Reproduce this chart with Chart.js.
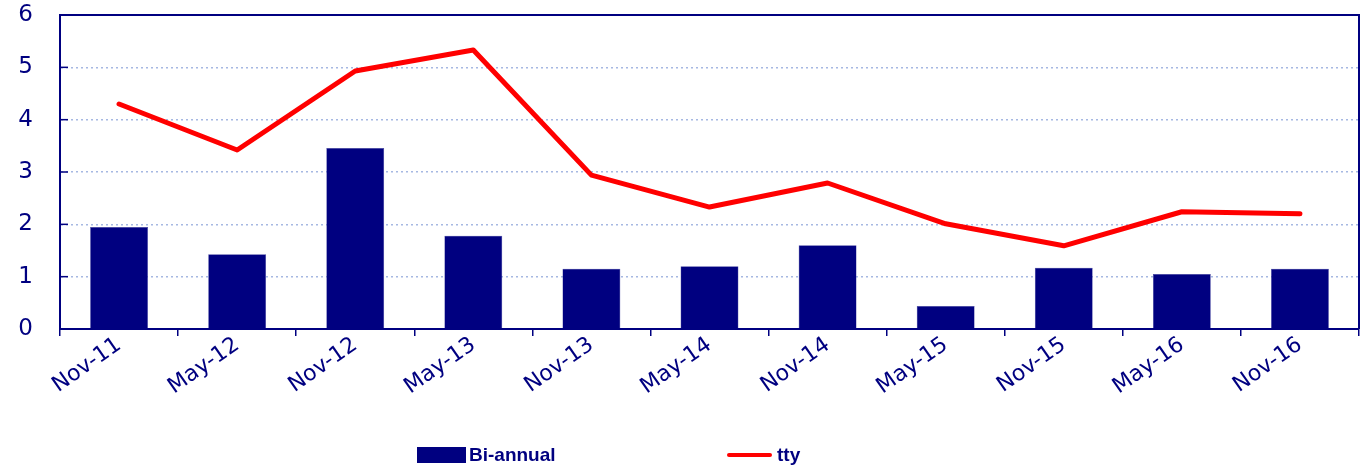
<!DOCTYPE html>
<html>
<head>
<meta charset="utf-8">
<script src="https://cdn.jsdelivr.net/npm/chart.js@4/dist/chart.umd.min.js"></script>
<style>
    html, body { margin: 0; padding: 0; background: #fff; }
    #contenedor { position: relative; width: 1363px; height: 468px; }
    .leyenda { position: absolute; top: 444px; font: bold 19px "Liberation Sans", sans-serif; color: #000080; display: flex; align-items: center; }
    .caja { width: 49px; height: 16px; background: #000080; margin-right: 3px; }
    .linea { width: 45px; height: 4px; background: #ff0000; border-radius: 2px; margin-right: 5px; }
</style>
</head>
<body>
<div id="contenedor">
    <canvas id="graficoSemestral" width="1363" height="468"></canvas>
    <div class="leyenda" style="left:417px"><span class="caja"></span>Bi-annual</div>
    <div class="leyenda" style="left:727px"><span class="linea"></span>tty</div>
</div>
<script>
const periodos = ['Nov-11', 'May-12', 'Nov-12', 'May-13', 'Nov-13', 'May-14', 'Nov-14', 'May-15', 'Nov-15', 'May-16', 'Nov-16'];
const semestral = [1.95, 1.43, 3.46, 1.78, 1.15, 1.2, 1.6, 0.44, 1.17, 1.05, 1.15];
const interanual = [4.3, 3.42, 4.93, 5.33, 2.94, 2.33, 2.79, 2.01, 1.59, 2.24, 2.2];
const ticksY = [0, 1, 2, 3, 4, 5, 6];

const azul = '#000080';

// marco superior/derecho y marcas internas del eje Y
const marcoPlugin = {
    id: 'marco',
    afterDraw(chart) {
        const { ctx, chartArea: a, scales } = chart;
        ctx.save();
        ctx.strokeStyle = azul;
        ctx.lineWidth = 2;
        ctx.beginPath();
        ctx.moveTo(a.left, a.top);
        ctx.lineTo(a.right, a.top);
        ctx.lineTo(a.right, a.bottom);
        ctx.stroke();
        ctx.lineWidth = 1.5;
        ticksY.forEach(v => {
            const y = scales.y.getPixelForValue(v);
            ctx.beginPath();
            ctx.moveTo(a.left, y);
            ctx.lineTo(a.left + 8, y);
            ctx.stroke();
        });
        ctx.restore();
    }
};

const ctx = document.getElementById('graficoSemestral').getContext('2d');
new Chart(ctx, {
    data: {
        labels: periodos,
        datasets: [
            {
                type: 'line',
                label: 'tty',
                data: interanual,
                borderColor: '#ff0000',
                borderWidth: 5,
                pointRadius: 0,
                borderCapStyle: 'round',
                borderJoinStyle: 'round',
                tension: 0
            },
            {
                type: 'bar',
                label: 'Bi-annual',
                data: semestral,
                backgroundColor: azul,
                borderColor: '#3a3a9a',
                borderWidth: 0.5,
                categoryPercentage: 1,
                barPercentage: 0.49
            }
        ]
    },
    options: {
        responsive: false,
        animation: false,
        layout: { padding: { top: 15, right: 4, left: 0, bottom: 0 } },
        plugins: {
            legend: { display: false },
            tooltip: { enabled: false }
        },
        scales: {
            x: {
                grid: { offset: true, drawOnChartArea: false, drawTicks: true, tickLength: 7, color: azul, lineWidth: 1.5 },
                border: { color: azul, width: 2 },
                ticks: {
                    color: azul,
                    font: { family: 'DejaVu Sans', size: 22 },
                    minRotation: 35,
                    maxRotation: 35,
                    padding: -4,
                    autoSkip: false
                },
                afterFit(scale) { scale.height = 139; }
            },
            y: {
                min: 0,
                max: 6,
                afterBuildTicks(scale) { scale.ticks = ticksY.map(v => ({ value: v })); },
                grid: { color: '#a6b8e2', lineWidth: 1.5, drawTicks: false },
                border: { color: azul, width: 2, dash: [2, 3] },
                ticks: {
                    color: azul,
                    font: { family: 'DejaVu Sans', size: 23 },
                    padding: 27
                },
                afterFit(scale) {
                    scale.width = 60;
                    scale.paddingTop = 0;
                    scale.paddingBottom = 0;
                }
            }
        }
    },
    plugins: [marcoPlugin]
});
</script>
</body>
</html>
